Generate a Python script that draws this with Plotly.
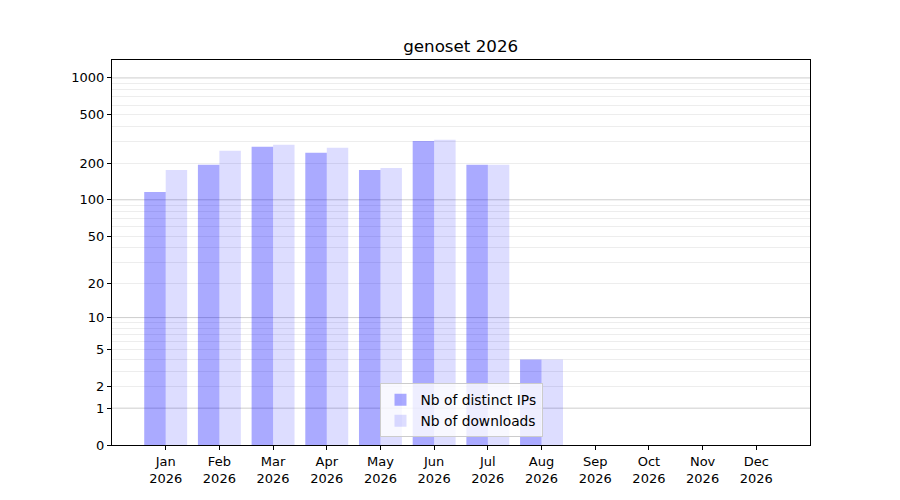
import numpy as np
import plotly.graph_objects as go

months = ["Jan", "Feb", "Mar", "Apr", "May", "Jun", "Jul", "Aug", "Sep", "Oct", "Nov", "Dec"]
year = "2026"
distinct_ips = [116, 194, 273, 244, 176, 305, 194, 4, 0, 0, 0, 0]
downloads = [176, 253, 283, 268, 183, 311, 194, 4, 0, 0, 0, 0]
tick_values = [0, 1, 2, 5, 10, 20, 50, 100, 200, 500, 1000]
major_grid_values = [1, 10, 100, 1000]
minor_grid_values = [m * d for d in [1, 10, 100] for m in range(2, 10)]


def tr(v):
    return np.log10(1 + np.asarray(v, dtype=float))


x_idx = list(range(len(months)))
x_labels = [f"{m}<br>{year}" for m in months]

fig = go.Figure()
fig.add_trace(go.Bar(x=x_idx, y=tr(distinct_ips), name="Nb of distinct IPs",
                     marker=dict(color="rgba(0,0,255,0.333)", line=dict(width=0))))
fig.add_trace(go.Bar(x=x_idx, y=tr(downloads), name="Nb of downloads",
                     marker=dict(color="rgba(0,0,255,0.133)", line=dict(width=0))))

shapes = []
for v in major_grid_values:
    shapes.append(dict(type="line", xref="paper", yref="y", x0=0, x1=1, y0=float(tr(v)), y1=float(tr(v)),
                       line=dict(color="rgba(0,0,0,0.2)", width=1), layer="below"))

font = "DejaVu Sans, sans-serif"
fig.update_layout(
    width=900, height=500,
    paper_bgcolor="white", plot_bgcolor="white",
    margin=dict(l=104, r=98, t=52, b=63),
    barmode="group", bargap=0.2, bargroupgap=0,
    title=dict(text="genoset 2026", x=0.503, xanchor="center", y=0.924, yanchor="middle",
               font=dict(family=font, size=16.7, color="black")),
    font=dict(family=font, size=13, color="black"),
    showlegend=True,
    legend=dict(x=0.5, xanchor="center", y=0.02, yanchor="bottom",
                bgcolor="rgba(255,255,255,0.8)", bordercolor="#cccccc", borderwidth=1,
                font=dict(family=font, size=13.8), itemsizing="constant", tracegroupgap=0),
    shapes=shapes,
)
fig.update_xaxes(range=[-1, 12], tickmode="array", tickvals=x_idx, ticktext=x_labels,
                 showgrid=False, zeroline=False, showline=True, linecolor="black", linewidth=1,
                 mirror=True, ticks="outside", ticklen=4, tickcolor="black")
fig.update_yaxes(range=[0, 3.147], tickmode="array", tickvals=tr(tick_values),
                 ticktext=[str(v) for v in tick_values],
                 showgrid=False, zeroline=False, showline=True, linecolor="black", linewidth=1,
                 mirror=True, ticks="outside", ticklen=4, tickcolor="black",
                 minor=dict(tickmode="array", tickvals=tr(minor_grid_values), showgrid=True,
                            gridcolor="rgba(0,0,0,0.07)", gridwidth=1, ticks=""))

fig.write_html("out.html")
